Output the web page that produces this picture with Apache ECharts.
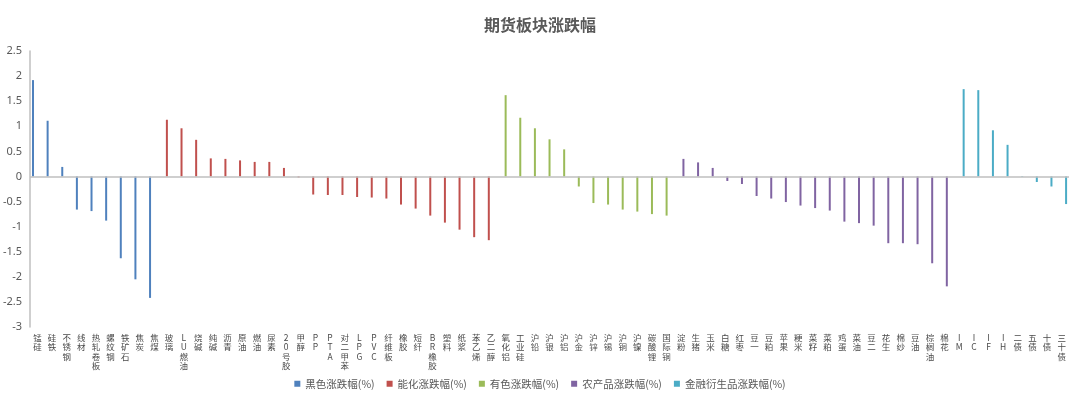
<!DOCTYPE html>
<html>
<head>
<meta charset="utf-8">
<script src="https://cdn.jsdelivr.net/npm/echarts@6/dist/echarts.min.js"></script>
<style>html,body{margin:0;padding:0;background:#fff;}#c{width:1080px;height:405px;}</style>
</head>
<body>
<div id="c"></div>
<script>
const blackCats = ['锰硅','硅铁','不锈钢','线材','热轧卷板','螺纹钢','铁矿石','焦炭','焦煤'];
const blackVals = [1.92,1.11,0.19,-0.66,-0.69,-0.88,-1.63,-2.05,-2.42];
const chemCats = ['玻璃','LU燃油','烧碱','纯碱','沥青','原油','燃油','尿素','20号胶','甲醇','PP','PTA','对二甲苯','LPG','PVC','纤维板','橡胶','短纤','BR橡胶','塑料','纸浆','苯乙烯','乙二醇'];
const chemVals = [1.13,0.96,0.73,0.36,0.35,0.32,0.29,0.29,0.17,-0.02,-0.36,-0.37,-0.37,-0.41,-0.42,-0.44,-0.56,-0.64,-0.78,-0.92,-1.06,-1.21,-1.27];
const metalCats = ['氧化铝','工业硅','沪铅','沪银','沪铝','沪金','沪锌','沪锡','沪铜','沪镍','碳酸锂','国际铜'];
const metalVals = [1.62,1.17,0.96,0.74,0.54,-0.20,-0.53,-0.56,-0.66,-0.70,-0.75,-0.78];
const agriCats = ['淀粉','生猪','玉米','白糖','红枣','豆一','豆粕','苹果','粳米','菜籽','菜粕','鸡蛋','菜油','豆二','花生','棉纱','豆油','棕榈油','棉花'];
const agriVals = [0.35,0.28,0.17,-0.09,-0.15,-0.39,-0.44,-0.51,-0.58,-0.63,-0.68,-0.90,-0.93,-0.98,-1.33,-1.33,-1.35,-1.73,-2.19];
const finCats = ['IM','IC','IF','IH','二债','五债','十债','三十债'];
const finVals = [1.74,1.72,0.92,0.63,-0.01,-0.11,-0.20,-0.55];

const groupNames = ['黑色涨跌幅(%)','能化涨跌幅(%)','有色涨跌幅(%)','农产品涨跌幅(%)','金融衍生品涨跌幅(%)'];
const groupColors = ['#4F81BD','#C0504D','#9BBB59','#8064A2','#4BACC6'];
const groups = [[blackCats,blackVals],[chemCats,chemVals],[metalCats,metalVals],[agriCats,agriVals],[finCats,finVals]];

const categories = [].concat(...groups.map(g => g[0]));
const series = groups.map((g, k) => {
  const data = [];
  groups.forEach((h, j) => {
    h[1].forEach(v => data.push(j === k ? v : null));
  });
  const s = {
    name: groupNames[k],
    type: 'bar',
    data: data,
    barWidth: 2,
    barGap: '10%',
    itemStyle: { color: groupColors[k] }
  };
  if (k === 0) {
    s.markLine = {
      silent: true,
      symbol: 'none',
      label: { show: false },
      lineStyle: { color: '#BFBFBF', width: 1.5, type: 'solid' },
      data: [{ yAxis: 0 }]
    };
  }
  return s;
});

const chart = echarts.init(document.getElementById('c'));
chart.setOption({
  animation: false,
  backgroundColor: '#ffffff',
  title: {
    text: '期货板块涨跌幅',
    left: 'center',
    top: 12,
    textStyle: { fontSize: 16, fontWeight: 'bold', color: '#595959', fontFamily: 'Noto Sans CJK SC' }
  },
  legend: {
    bottom: 11,
    left: 'center',
    itemWidth: 6,
    itemHeight: 6,
    itemGap: 12,
    icon: 'rect',
    textStyle: { fontSize: 10.5, color: '#595959', fontFamily: 'Noto Sans CJK SC' },
    data: groupNames
  },
  grid: { left: 28, right: 11, top: 51, bottom: 78, containLabel: false },
  xAxis: {
    type: 'category',
    data: categories,
    axisLine: { show: false, onZero: false },
    axisTick: { show: false },
    axisLabel: {
      interval: 0,
      margin: 6,
      fontSize: 8.5,
      lineHeight: 9.5,
      color: '#4a4a4a',
      fontFamily: 'Noto Sans CJK SC',
      formatter: v => v.split('').join('\n')
    }
  },
  yAxis: {
    type: 'value',
    min: -3,
    max: 2.5,
    interval: 0.5,
    splitLine: { show: false },
    axisLine: { show: true, lineStyle: { color: '#BFBFBF', width: 1.5 } },
    axisTick: { show: false },
    axisLabel: { fontSize: 11, color: '#595959', margin: 8, fontFamily: 'Noto Sans' }
  },
  series: series
});
</script>
</body>
</html>
